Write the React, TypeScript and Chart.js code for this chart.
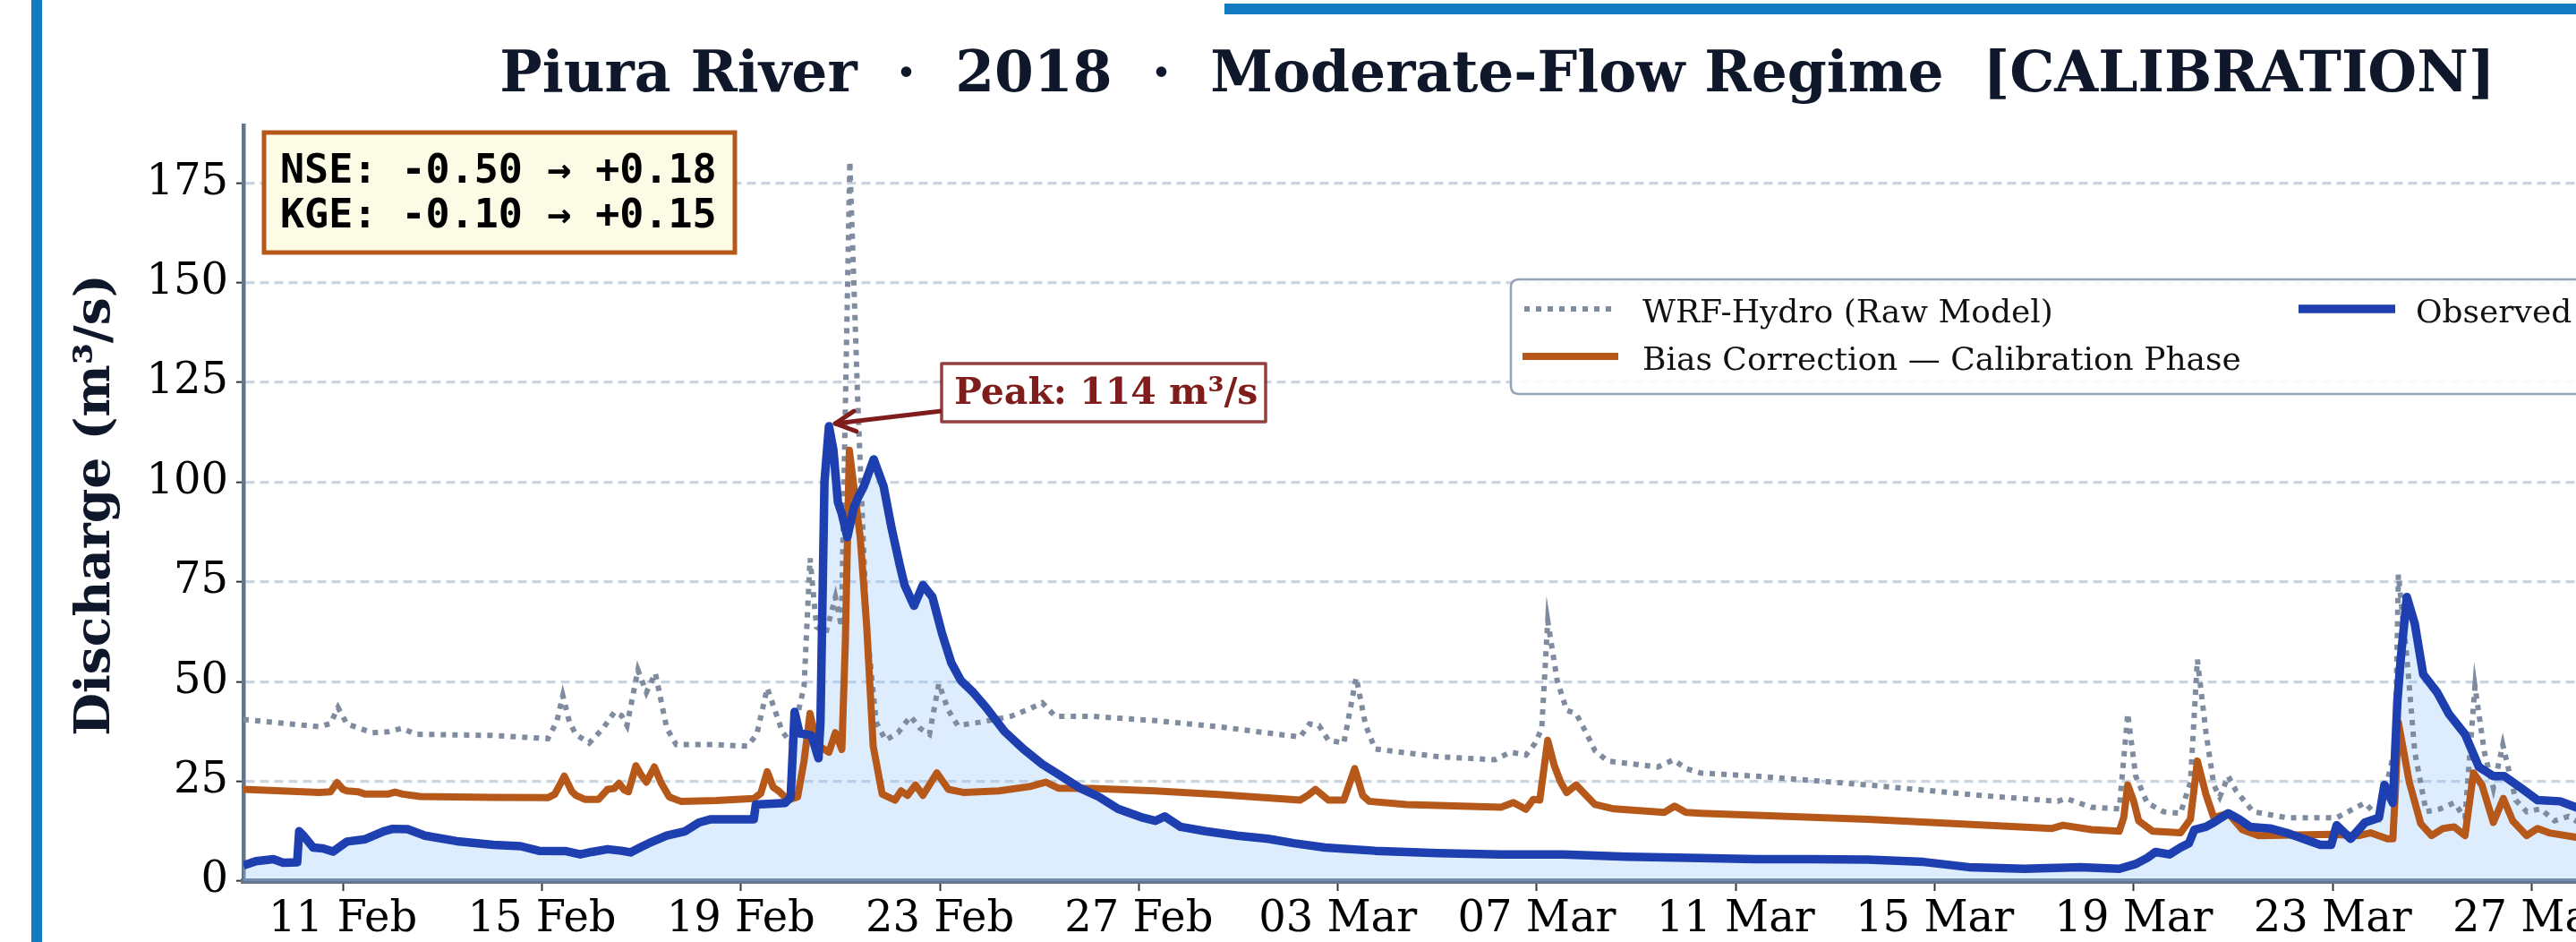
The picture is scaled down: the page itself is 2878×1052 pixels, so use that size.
import React, { useEffect, useRef } from "react";
import { Chart, registerables } from "chart.js";

Chart.register(...registerables);

const CANVAS_W = 3200;
const CANVAS_H = 1052;

// x axis: days since 09 Feb 2018 00:00
const X_MAX = 50.4;
const Y_MAX = 189.4;
const tickDays = [2, 6, 10, 14, 18, 22, 26, 30, 34, 38, 42, 46, 50];
const tickLabels = [
  "11 Feb", "15 Feb", "19 Feb", "23 Feb", "27 Feb", "03 Mar", "07 Mar",
  "11 Mar", "15 Mar", "19 Mar", "23 Mar", "27 Mar", "31 Mar",
];
const yTicks = [0, 25, 50, 75, 100, 125, 150, 175];

const titleText = "Piura River  ·  2018  ·  Moderate-Flow Regime  [CALIBRATION]";
const yAxisLabel = "Discharge (m³/s)";
const metricsLines = ["NSE: -0.50 → +0.18", "KGE: -0.10 → +0.15"];
const peakDay = 11.77;
const peakQ = 114;
const peakText = "Peak: 114 m³/s";

// Observed discharge
const obsDays = [
  0, 0.25, 0.6, 0.8, 1.08, 1.12, 1.2, 1.4, 1.6, 1.8, 2.08, 2.45, 2.82, 3.0, 3.3, 3.65,
  4.29, 5.02, 5.57, 5.94, 6.49, 6.77, 7.0, 7.32, 7.6, 7.78, 8.0, 8.15, 8.51, 8.88, 9.16,
  9.4, 10.26, 10.3, 10.89, 11.0, 11.08, 11.18, 11.3, 11.42, 11.56, 11.6, 11.68, 11.77,
  11.86, 11.95, 12.03, 12.14, 12.27, 12.35, 12.47, 12.67, 12.87, 13.03, 13.19, 13.29,
  13.48, 13.66, 13.85, 14.04, 14.23, 14.42, 14.67, 14.93, 15.3, 15.68, 16.06, 16.44,
  16.82, 17.2, 17.58, 18.08, 18.33, 18.52, 18.84, 19.34, 19.98, 20.6, 21.11, 21.74,
  22.75, 24.01, 25.28, 26.54, 27.8, 29.29, 30.41, 31.53, 32.66, 33.78, 34.68, 35.8,
  36.92, 37.71, 38.04, 38.27, 38.44, 38.72, 38.94, 39.11, 39.22, 39.45, 39.61, 39.9,
  40.12, 40.34, 40.74, 41.07, 41.41, 41.75, 41.97, 42.08, 42.36, 42.65, 42.93, 43.04,
  43.21, 43.3, 43.37, 43.49, 43.65, 43.82, 44.1, 44.33, 44.66, 44.94, 45.23, 45.45,
  45.79, 46.12, 46.57, 46.89, 47.3, 48.0, 49.0, 50.0, 50.4,
];
const obsQ = [
  3.9, 5.0, 5.5, 4.6, 4.7, 12.5, 11.5, 8.4, 8.2, 7.4, 9.9, 10.5, 12.5, 13.1, 13.0, 11.4,
  10.0, 9.1, 8.75, 7.6, 7.5, 6.7, 7.3, 8.0, 7.6, 7.2, 8.6, 9.5, 11.4, 12.5, 14.7,
  15.5, 15.5, 19.2, 19.6, 21.0, 42.4, 37.0, 36.8, 36.5, 30.8, 40.0, 100.0, 114.0,
  108.0, 95.0, 92.0, 86.2, 93.6, 96.0, 98.9, 105.7, 98.9, 88.4, 79.4, 74.2,
  69.0, 74.2, 71.2, 62.2, 54.7, 50.3, 47.3, 43.5, 37.5, 33.1, 29.3, 26.3,
  23.3, 21.1, 18.1, 15.9, 15.1, 16.2, 13.6, 12.5, 11.4, 10.6, 9.5, 8.4,
  7.6, 7.0, 6.7, 6.7, 6.1, 5.8, 5.5, 5.5, 5.4, 4.8, 3.5, 3.1,
  3.5, 3.1, 4.3, 5.8, 7.3, 6.7, 8.4, 9.5, 12.9, 13.6, 14.7, 17.0,
  15.5, 13.6, 13.2, 12.1, 10.6, 9.1, 9.1, 14.0, 10.6, 14.7, 15.9, 24.1,
  19.6, 45.0, 56.0, 71.2, 64.5, 51.8, 47.3, 42.0, 36.8, 28.6, 26.3, 26.3,
  23.3, 20.3, 20.0, 18.5, 17.5, 16.0, 14.5, 13.5, 13.2,
];

// Bias-corrected model (calibration phase)
const biasDays = [
  0, 1.53, 1.75, 1.88, 2.0, 2.08, 2.3, 2.45, 2.9, 3.05, 3.2, 3.55, 5.0, 6.12, 6.26, 6.45,
  6.6, 6.68, 6.86, 7.14, 7.32, 7.45, 7.55, 7.66, 7.74, 7.89, 8.0, 8.1, 8.26, 8.4, 8.56,
  8.79, 9.5, 10.26, 10.4, 10.53, 10.65, 10.76, 10.95, 11.14, 11.27, 11.39, 11.5, 11.58,
  11.77, 11.9, 12.03, 12.1, 12.18, 12.26, 12.4, 12.53, 12.66, 12.84, 13.1, 13.22, 13.35,
  13.51, 13.66, 13.94, 14.17, 14.49, 15.18, 15.81, 16.13, 16.38, 17.07, 18.33, 19.6,
  21.24, 21.4, 21.55, 21.81, 22.12, 22.34, 22.5, 22.63, 23.38, 25.28, 25.53, 25.78,
  25.93, 26.06, 26.22, 26.35, 26.48, 26.6, 26.79, 27.17, 27.55, 28.56, 28.77, 29.0,
  29.29, 32.66, 36.36, 36.58, 37.15, 37.71, 37.8, 37.88, 38.0, 38.1, 38.38, 38.94,
  39.14, 39.28, 39.45, 39.61, 39.9, 40.18, 40.51, 41.97, 42.53, 42.76, 43.1, 43.21,
  43.27, 43.32, 43.54, 43.77, 43.99, 44.22, 44.44, 44.66, 44.83, 45.0, 45.23, 45.43,
  45.62, 45.9, 46.12, 46.35, 46.89, 48.0, 49.0, 50.4,
];
const biasQ = [
  23.0, 22.2, 22.4, 24.7, 23.0, 22.6, 22.4, 21.8, 21.8, 22.3, 21.8, 21.2, 21.0, 20.9, 21.8, 26.3,
  22.5, 21.5, 20.5, 20.5, 23.0, 23.2, 24.5, 22.8, 22.4, 28.9, 26.5, 24.8, 28.6, 24.5, 21.1,
  20.0, 20.2, 20.7, 22.0, 27.4, 23.5, 22.6, 20.3, 21.1, 30.1, 42.0, 36.0, 33.8,
  32.3, 37.2, 33.0, 60.0, 108.0, 100.0, 86.0, 63.7, 33.8, 21.8, 20.3, 22.6, 21.5,
  24.1, 21.5, 27.1, 23.0, 22.2, 22.6, 23.7, 24.8, 23.3, 23.2, 22.6, 21.7,
  20.3, 21.5, 23.0, 20.3, 20.3, 28.2, 21.5, 20.0, 19.2, 18.5, 19.7, 18.0,
  20.5, 20.3, 35.3, 29.0, 24.8, 22.2, 24.1, 19.2, 18.1, 17.2, 18.8, 17.2,
  17.0, 15.5, 13.2, 14.0, 12.9, 12.5, 16.0, 24.1, 20.0, 15.1, 12.5, 12.1,
  15.5, 30.1, 21.8, 15.9, 17.0, 12.9, 11.4, 11.7, 11.4, 12.1, 10.6, 10.6,
  25.0, 39.8, 24.8, 14.4, 11.4, 13.2, 13.6, 11.4, 27.1, 24.1, 14.7, 20.7,
  15.1, 11.4, 13.2, 12.1, 11.0, 10.6, 10.2, 9.8,
];

// WRF-Hydro raw model
const rawDays = [
  0, 1.53, 1.75, 1.9, 2.08, 2.59, 2.9, 3.19, 3.46, 5.0, 6.12, 6.3, 6.42, 6.55, 6.68, 6.95,
  7.23, 7.46, 7.6, 7.71, 7.93, 8.1, 8.28, 8.51, 8.7, 9.5, 10.13, 10.32, 10.53, 10.83,
  11.01, 11.27, 11.39, 11.52, 11.71, 11.9, 12.02, 12.19, 12.35, 12.53, 12.72, 12.91,
  13.16, 13.41, 13.6, 13.79, 13.98, 14.17, 14.36, 14.8, 15.43, 15.81, 16.06, 16.32,
  17.07, 18.33, 19.6, 21.24, 21.43, 21.62, 21.81, 22.12, 22.37, 22.56, 22.75, 24.01,
  25.15, 25.47, 25.78, 25.97, 26.1, 26.22, 26.41, 26.6, 26.79, 26.98, 27.17, 27.42,
  28.43, 28.75, 29.0, 29.29, 30.41, 32.66, 34.9, 36.47, 36.64, 37.15, 37.71, 37.88,
  38.04, 38.27, 38.6, 38.94, 39.14, 39.28, 39.45, 39.61, 39.73, 39.9, 40.06, 40.4,
  41.07, 42.08, 42.65, 42.93, 43.26, 43.32, 43.49, 43.65, 43.88, 44.16, 44.44, 44.66,
  44.86, 45.05, 45.23, 45.42, 45.68, 45.9, 46.18, 46.46, 46.74, 46.89, 48.0, 49.0, 50.4,
];
const rawQ = [
  40.5, 38.7, 39.5, 43.5, 39.4, 37.2, 37.4, 38.3, 36.8, 36.5, 35.7, 40.0, 46.5, 40.0, 36.8, 34.6,
  38.3, 42.4, 41.5, 39.0, 52.9, 47.3, 52.1, 38.3, 34.2, 34.2, 33.8, 36.8, 48.4, 37.5,
  34.6, 48.8, 80.9, 63.7, 62.2, 71.2, 63.7, 180.4, 120.0, 63.7, 39.8, 35.3,
  37.2, 41.3, 38.3, 36.8, 49.5, 42.8, 39.0, 39.8, 41.3, 43.2, 44.7, 41.3,
  41.3, 40.2, 38.7, 36.1, 39.4, 39.0, 35.3, 34.6, 51.0, 39.0, 33.1, 31.2,
  30.4, 32.3, 31.6, 34.6, 38.3, 65.2, 50.3, 42.8, 42.0, 37.5, 32.7, 30.1,
  28.6, 30.4, 28.2, 27.1, 26.3, 24.1, 21.5, 20.0, 20.7, 18.5, 18.1, 42.0,
  26.3, 19.6, 17.4, 17.0, 24.8, 55.5, 37.5, 24.1, 21.1, 26.3, 22.6, 17.4,
  15.9, 15.9, 19.6, 15.9, 33.8, 76.8, 56.2, 32.3, 17.4, 18.1, 19.6, 15.9,
  48.8, 32.3, 23.3, 34.2, 20.3, 17.4, 18.1, 15.1, 16.2, 15.1, 14.5, 14.0, 13.6,
];

const COLOR_OBS = "#1e3fb0";
const COLOR_OBS_FILL = "rgba(147,197,253,0.30)";
const COLOR_BIAS = "#b5581a";
const COLOR_RAW = "#7f8b9e";
const NAVY = "#0f172a";
const SPINE = "#64748b";

const toPoints = (xs: number[], ys: number[]) => xs.map((x, i) => ({ x, y: ys[i] }));

function drawHandle(ctx: CanvasRenderingContext2D, x1: number, x2: number, y: number, ds: any) {
  ctx.save();
  ctx.strokeStyle = ds.borderColor;
  ctx.lineWidth = ds.borderWidth;
  ctx.setLineDash(ds.borderDash || []);
  ctx.lineCap = "butt";
  ctx.beginPath();
  ctx.moveTo(x1, y);
  ctx.lineTo(x2, y);
  ctx.stroke();
  ctx.restore();
}

const overlayPlugin = {
  id: "overlay",
  afterDraw(chart: any) {
    const ctx: CanvasRenderingContext2D = chart.ctx;
    const xs = chart.scales.x;
    const ys = chart.scales.y;
    const ds = chart.data.datasets;
    ctx.save();

    // Title
    ctx.fillStyle = NAVY;
    ctx.font = 'bold 63px "DejaVu Serif"';
    ctx.textAlign = "center";
    ctx.textBaseline = "alphabetic";
    ctx.fillText(titleText, 1673, 102);

    // Y axis label
    ctx.save();
    ctx.translate(122, 564);
    ctx.rotate(-Math.PI / 2);
    ctx.font = 'bold 55px "DejaVu Serif"';
    ctx.fillText(yAxisLabel, 0, 0);
    ctx.restore();

    // Metrics box
    ctx.fillStyle = "#fcfbe6";
    ctx.fillRect(295, 148, 526, 134);
    ctx.strokeStyle = COLOR_BIAS;
    ctx.lineWidth = 5;
    ctx.strokeRect(295, 148, 526, 134);
    ctx.fillStyle = "#000";
    ctx.font = 'bold 45px "DejaVu Sans Mono"';
    ctx.textAlign = "left";
    ctx.fillText(metricsLines[0], 313, 204);
    ctx.fillText(metricsLines[1], 313, 254);

    // Legend
    const lx = 1688, ly = 312, lw = 1220, lh = 128, r = 9;
    ctx.beginPath();
    ctx.moveTo(lx + r, ly);
    ctx.lineTo(lx + lw - r, ly);
    ctx.quadraticCurveTo(lx + lw, ly, lx + lw, ly + r);
    ctx.lineTo(lx + lw, ly + lh - r);
    ctx.quadraticCurveTo(lx + lw, ly + lh, lx + lw - r, ly + lh);
    ctx.lineTo(lx + r, ly + lh);
    ctx.quadraticCurveTo(lx, ly + lh, lx, ly + lh - r);
    ctx.lineTo(lx, ly + r);
    ctx.quadraticCurveTo(lx, ly, lx + r, ly);
    ctx.closePath();
    ctx.fillStyle = "rgba(255,255,255,0.88)";
    ctx.fill();
    ctx.strokeStyle = "#94a3b8";
    ctx.lineWidth = 2.5;
    ctx.stroke();

    ctx.font = '36px "DejaVu Serif"';
    ctx.fillStyle = "#111";
    drawHandle(ctx, 1703, 1807, 345, ds[2]);
    ctx.fillText(ds[2].label, 1835, 360);
    drawHandle(ctx, 1701, 1808, 398, ds[1]);
    ctx.fillText(ds[1].label, 1835, 413);
    drawHandle(ctx, 2568, 2676, 345, ds[0]);
    ctx.fillText(ds[0].label, 2699, 360);

    // Peak annotation
    const px = xs.getPixelForValue(peakDay) + 7;
    const py = ys.getPixelForValue(peakQ) - 3;
    const bx = 1052, by = 406, bw = 362, bh = 65;
    const tailX = bx, tailY = 459;
    ctx.strokeStyle = "#7f1d1d";
    ctx.lineWidth = 5;
    ctx.lineCap = "round";
    ctx.lineJoin = "round";
    ctx.beginPath();
    ctx.moveTo(tailX, tailY);
    ctx.lineTo(px, py);
    ctx.stroke();
    const ang = Math.atan2(tailY - py, tailX - px);
    const hl = 25, ha = 0.47;
    ctx.beginPath();
    ctx.moveTo(px + hl * Math.cos(ang - ha), py + hl * Math.sin(ang - ha));
    ctx.lineTo(px, py);
    ctx.lineTo(px + hl * Math.cos(ang + ha), py + hl * Math.sin(ang + ha));
    ctx.stroke();

    ctx.fillStyle = "#ffffff";
    ctx.fillRect(bx, by, bw, bh);
    ctx.strokeStyle = "rgba(127,29,29,0.85)";
    ctx.lineWidth = 3.5;
    ctx.strokeRect(bx, by, bw, bh);
    ctx.fillStyle = "#7f1d1d";
    ctx.font = 'bold 41px "DejaVu Serif"';
    ctx.textAlign = "left";
    ctx.fillText(peakText, 1066, 451);

    ctx.restore();
  },
};

export default function App() {
  const canvasRef = useRef<HTMLCanvasElement | null>(null);

  useEffect(() => {
    const canvas = canvasRef.current;
    if (!canvas) return;
    const chart = new Chart(canvas, {
      type: "line",
      data: {
        datasets: [
          {
            label: "Observed",
            data: toPoints(obsDays, obsQ),
            borderColor: COLOR_OBS,
            backgroundColor: COLOR_OBS_FILL,
            borderWidth: 9.5,
            fill: "origin",
            pointRadius: 0,
            tension: 0,
            borderJoinStyle: "round",
          },
          {
            label: "Bias Correction — Calibration Phase",
            data: toPoints(biasDays, biasQ),
            borderColor: COLOR_BIAS,
            borderWidth: 8,
            fill: false,
            pointRadius: 0,
            tension: 0,
            borderJoinStyle: "round",
          },
          {
            label: "WRF-Hydro (Raw Model)",
            data: toPoints(rawDays, rawQ),
            borderColor: COLOR_RAW,
            borderWidth: 6,
            borderDash: [6, 7],
            fill: false,
            pointRadius: 0,
            tension: 0,
          },
        ],
      },
      options: {
        animation: false,
        responsive: false,
        devicePixelRatio: 1,
        layout: { padding: { top: 140, left: 0, right: CANVAS_W - 3073, bottom: 0 } },
        plugins: {
          legend: { display: false },
          title: { display: false },
          tooltip: { enabled: false },
          filler: { drawTime: "beforeDatasetsDraw" },
        },
        scales: {
          x: {
            type: "linear",
            min: 0,
            max: X_MAX,
            z: 1,
            afterBuildTicks: (scale: any) => {
              scale.ticks = tickDays.map((v) => ({ value: v }));
            },
            afterFit: (scale: any) => {
              scale.height = 68;
            },
            ticks: {
              autoSkip: false,
              maxRotation: 0,
              minRotation: 0,
              padding: 9,
              color: "#000",
              font: { family: "DejaVu Serif", size: 48, lineHeight: 1 },
              callback: (value: any) => {
                const i = tickDays.indexOf(Number(value));
                return i >= 0 ? tickLabels[i] : "";
              },
            },
            grid: {
              display: true,
              drawOnChartArea: false,
              drawTicks: true,
              tickLength: 11,
              tickWidth: 2,
              tickColor: "#333",
            },
            border: { display: true, color: SPINE, width: 6 },
          },
          y: {
            type: "linear",
            min: 0,
            max: Y_MAX,
            afterBuildTicks: (scale: any) => {
              scale.ticks = yTicks.map((v) => ({ value: v }));
            },
            afterFit: (scale: any) => {
              scale.width = 272;
            },
            ticks: {
              padding: 9,
              color: "#000",
              font: { family: "DejaVu Serif", size: 48 },
              callback: (value: any) => String(value),
            },
            grid: {
              display: true,
              color: "#cbd5e1",
              lineWidth: 3.3,
              drawTicks: true,
              tickLength: 8,
              tickWidth: 2,
              tickColor: "#333",
            },
            border: { display: true, color: SPINE, width: 4.5, dash: [10, 6] },
          },
        },
      },
      plugins: [overlayPlugin],
    } as any);
    return () => chart.destroy();
  }, []);

  return (
    <div
      style={{
        position: "absolute",
        left: 0,
        top: 0,
        width: 2878,
        height: 1052,
        overflow: "hidden",
        background: "#ffffff",
      }}
    >
      <div style={{ position: "absolute", left: 35, top: 0, width: 12, height: 1052, background: "#137bc2" }} />
      <div style={{ position: "absolute", left: 1368, top: 4, width: 1510, height: 12, background: "#137bc2" }} />
      <canvas
        ref={canvasRef}
        width={CANVAS_W}
        height={CANVAS_H}
        style={{ position: "absolute", left: 0, top: 0, width: CANVAS_W, height: CANVAS_H }}
      />
    </div>
  );
}
